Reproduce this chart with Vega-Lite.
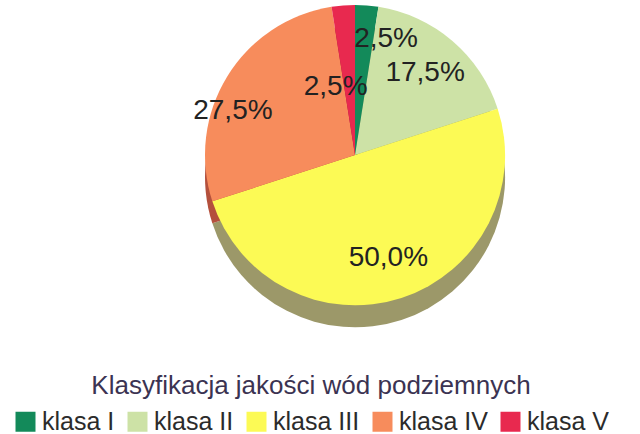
{
  "$schema": "https://vega.github.io/schema/vega-lite/v6.json",
  "width": 570,
  "height": 310,
  "autosize": {"type": "none"},
  "padding": {"left": 70, "top": 0, "right": 0, "bottom": 124},
  "background": "white",
  "data": {
    "values": [
      {"klasa": "klasa I", "value": 2.5, "label": "2,5%"},
      {"klasa": "klasa II", "value": 17.5, "label": "17,5%"},
      {"klasa": "klasa III", "value": 50.0, "label": "50,0%"},
      {"klasa": "klasa IV", "value": 27.5, "label": "27,5%"},
      {"klasa": "klasa V", "value": 2.5, "label": "2,5%"}
    ]
  },
  "encoding": {
    "theta": {"field": "value", "type": "quantitative", "stack": true},
    "order": {"field": "klasa", "type": "ordinal", "sort": "ascending"}
  },
  "layer": [
    {
      "mark": {"type": "arc", "radius": 150, "yOffset": 22},
      "encoding": {
        "color": {
          "field": "klasa", "type": "nominal", "legend": null,
          "scale": {"domain": ["klasa I", "klasa II", "klasa III", "klasa IV", "klasa V"],
                    "range": ["#0b5a3a", "#8e9a72", "#9c9869", "#b4503c", "#a01c36"]}
        }
      }
    },
    {
      "mark": {"type": "arc", "radius": 150},
      "encoding": {
        "color": {
          "field": "klasa", "type": "nominal",
          "title": "Klasyfikacja jakości wód podziemnych",
          "scale": {"domain": ["klasa I", "klasa II", "klasa III", "klasa IV", "klasa V"],
                    "range": ["#138a5a", "#cde2a6", "#fcfa55", "#f78c5c", "#e8294f"]},
          "legend": {
            "orient": "none",
            "legendX": -57,
            "legendY": 373,
            "direction": "horizontal",
            "columns": 5
          }
        }
      }
    },
    {
      "mark": {"type": "text", "radius": 108, "font": "Liberation Sans", "fontSize": 28, "color": "#222222"},
      "encoding": {
        "text": {"condition": {"test": "datum.klasa === 'klasa II' || datum.klasa === 'klasa III'", "field": "label"}, "value": ""}
      }
    },
    {
      "mark": {"type": "text", "radius": 108, "dx": -30, "dy": 12, "font": "Liberation Sans", "fontSize": 28, "color": "#222222"},
      "encoding": {
        "text": {"condition": {"test": "datum.klasa === 'klasa IV'", "field": "label"}, "value": ""}
      }
    },
    {
      "mark": {"type": "text", "radius": 116, "dx": 22, "font": "Liberation Sans", "fontSize": 28, "color": "#222222"},
      "encoding": {
        "text": {"condition": {"test": "datum.klasa === 'klasa I'", "field": "label"}, "value": ""}
      }
    },
    {
      "mark": {"type": "text", "radius": 68, "dx": -14, "font": "Liberation Sans", "fontSize": 28, "color": "#222222"},
      "encoding": {
        "text": {"condition": {"test": "datum.klasa === 'klasa V'", "field": "label"}, "value": ""}
      }
    }
  ],
  "resolve": {"scale": {"color": "independent"}, "legend": {"color": "independent"}},
  "config": {
    "view": {"stroke": null},
    "legend": {
      "columnPadding": 10,
      "symbolType": "square",
      "symbolSize": 400,
      "symbolStrokeWidth": 0,
      "labelFont": "Liberation Sans",
      "labelFontSize": 25,
      "labelColor": "#2b2b2b",
      "labelOffset": 4,
      "titleFont": "Liberation Sans",
      "titleFontSize": 26,
      "titleFontWeight": "normal",
      "titleColor": "#3b3352",
      "titleAnchor": "middle",
      "titlePadding": 10,
      "titleLimit": 600,
      "labelLimit": 200
    }
  }
}
